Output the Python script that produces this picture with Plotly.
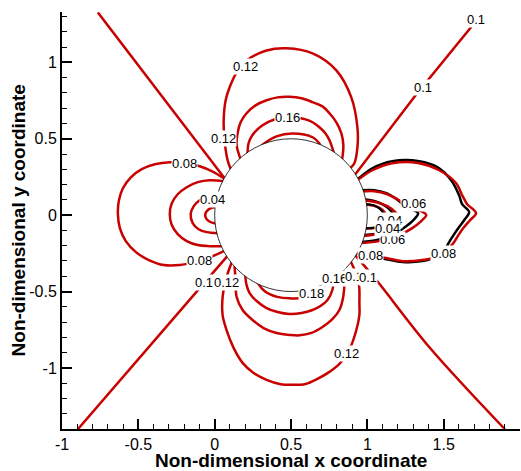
import plotly.graph_objects as go

# ---------------- axes ----------------
X_RANGE = [-1.0, 2.0]
Y_RANGE = [-1.4, 1.33]
X_TICKS = [-1, -0.5, 0, 0.5, 1, 1.5, 2]
X_TICK_TEXT = ["-1", "-0.5", "0", "0.5", "1", "1.5", "2"]
Y_TICKS = [-1, -0.5, 0, 0.5, 1]
Y_TICK_TEXT = ["-1", "-0.5", "0", "0.5", "1"]
X_TITLE = "Non-dimensional x coordinate"
Y_TITLE = "Non-dimensional y coordinate"

# cylinder
CYL_CX, CYL_CY, CYL_R = 0.5, 0.0, 0.5

# ---------------- contour lines ----------------
# upstream (left) lobes
UP002_X = [0.01, -0.039, -0.062, -0.039, 0.01]
UP002_Y = [0.055, 0.039, 0.0, -0.039, -0.055]
UP004_X = [0.02, -0.046, -0.098, -0.137, -0.157, -0.144, -0.105, -0.052, 0.02]
UP004_Y = [0.118, 0.118, 0.098, 0.059, 0.007, -0.052, -0.092, -0.111, -0.118]
UP006_X = [0.06, -0.033, -0.111, -0.183, -0.242, -0.281, -0.294, -0.281, -0.242, -0.183, -0.111, -0.033, 0.06]
UP006_Y = [0.222, 0.229, 0.216, 0.183, 0.137, 0.078, 0.007, -0.065, -0.124, -0.17, -0.196, -0.203, -0.203]
UP008_X = [0.07, -0.02, -0.098, -0.196, -0.294, -0.392, -0.477, -0.549, -0.601, -0.627, -0.634,
           -0.621, -0.582, -0.516, -0.431, -0.333, -0.229, -0.131, -0.046, 0.075]
UP008_Y = [0.235, 0.288, 0.32, 0.34, 0.346, 0.333, 0.301, 0.248, 0.176, 0.098, 0.007,
           -0.085, -0.17, -0.242, -0.294, -0.327, -0.327, -0.307, -0.281, -0.229]

# 0.1 straight lines
L010_UL_X = [-0.765, -0.35, 0.08]
L010_UL_Y = [1.327, 0.785, 0.222]
L010_LL_X = [-0.895, -0.118, 0.09]
L010_LL_Y = [-1.4, -0.503, -0.26]
L010_UR_X = [0.9, 1.32, 1.758]
L010_UR_Y = [0.24, 0.79, 1.327]
L010_LR_X = [0.91, 1.059, 1.405, 1.9]
L010_LR_Y = [-0.25, -0.425, -0.863, -1.4]

# top lobes
TOP012_X = [0.11, 0.085, 0.065, 0.059, 0.072, 0.098, 0.144, 0.209, 0.34, 0.471, 0.641, 0.797,
            0.895, 0.935, 0.935, 0.915, 0.89]
TOP012_Y = [0.29, 0.359, 0.49, 0.621, 0.752, 0.837, 0.935, 1.013, 1.078, 1.092, 1.059, 0.948,
            0.771, 0.575, 0.444, 0.34, 0.31]
TOP014_X = [0.17, 0.144, 0.15, 0.17, 0.209, 0.268, 0.34, 0.412, 0.49, 0.569, 0.641, 0.706,
            0.752, 0.797, 0.83, 0.843, 0.835]
TOP014_Y = [0.365, 0.458, 0.536, 0.608, 0.667, 0.719, 0.752, 0.771, 0.775, 0.765, 0.74, 0.712,
            0.667, 0.608, 0.536, 0.458, 0.365]
TOP016_X = [0.215, 0.222, 0.242, 0.275, 0.314, 0.359, 0.412, 0.477, 0.542, 0.595, 0.641, 0.686,
            0.725, 0.752, 0.78]
TOP016_Y = [0.4, 0.471, 0.516, 0.556, 0.588, 0.614, 0.631, 0.641, 0.637, 0.627, 0.608, 0.575,
            0.536, 0.49, 0.41]
TOP018_X = [0.305, 0.405, 0.51, 0.641, 0.695]
TOP018_Y = [0.455, 0.516, 0.535, 0.51, 0.455]

# bottom lobes
BOT012_X = [0.115, 0.072, 0.052, 0.052, 0.078, 0.124, 0.183, 0.255, 0.34, 0.425, 0.51, 0.595,
            0.673, 0.752, 0.817, 0.882, 0.928, 0.948, 0.948, 0.948, 0.941, 0.89]
BOT012_Y = [-0.30, -0.425, -0.536, -0.654, -0.752, -0.869, -0.967, -1.033, -1.078, -1.105, -1.111, -1.105,
            -1.072, -1.026, -0.974, -0.882, -0.752, -0.654, -0.575, -0.49, -0.425, -0.3]
BOT014_X = [0.13, 0.137, 0.144, 0.183, 0.248, 0.32, 0.405, 0.49, 0.556, 0.634, 0.706, 0.771,
            0.817, 0.843, 0.85, 0.845]
BOT014_Y = [-0.33, -0.425, -0.536, -0.621, -0.686, -0.739, -0.771, -0.784, -0.787, -0.771, -0.732, -0.68,
            -0.621, -0.529, -0.425, -0.36]
BOT016_X = [0.2, 0.209, 0.229, 0.275, 0.34, 0.412, 0.49, 0.569, 0.641, 0.693, 0.739, 0.771, 0.78]
BOT016_Y = [-0.39, -0.458, -0.51, -0.562, -0.608, -0.634, -0.647, -0.641, -0.621, -0.595, -0.556, -0.49, -0.42]
BOT018_X = [0.28, 0.33, 0.41, 0.5, 0.59, 0.66, 0.72]
BOT018_Y = [-0.44, -0.50, -0.535, -0.545, -0.54, -0.515, -0.455]

# wake (right) - red solution
WR008_X = [0.93, 1.033, 1.163, 1.34, 1.471, 1.582, 1.621, 1.654, 1.712, 1.673, 1.634, 1.601,
           1.569, 1.529, 1.471, 1.359, 1.229, 1.124, 1.026, 0.93]
WR008_Y = [0.225, 0.294, 0.34, 0.34, 0.294, 0.209, 0.131, 0.072, 0.013, -0.033, -0.078, -0.124,
           -0.176, -0.222, -0.268, -0.294, -0.301, -0.281, -0.261, -0.25]
WR006_X = [0.96, 1.046, 1.131, 1.196, 1.255, 1.314, 1.366, 1.386, 1.353, 1.294, 1.235, 1.17, 1.078, 0.96]
WR006_Y = [0.155, 0.157, 0.137, 0.105, 0.065, 0.039, 0.02, 0.0, -0.039, -0.085, -0.118, -0.144, -0.17, -0.183]
WR004_X = [0.975, 1.059, 1.131, 1.183, 1.209, 1.196, 1.144, 1.065, 0.975]
WR004_Y = [0.098, 0.085, 0.059, 0.02, -0.026, -0.072, -0.105, -0.124, -0.137]
WR002_X = [0.985, 1.05, 1.1, 1.125, 1.11, 1.065, 0.985]
WR002_Y = [0.07, 0.06, 0.035, -0.005, -0.05, -0.08, -0.088]

# wake (right) - black solution
WK008_X = [0.93, 1.033, 1.163, 1.34, 1.458, 1.549, 1.601, 1.621, 1.667, 1.634, 1.601, 1.569,
           1.536, 1.51, 1.458, 1.359, 1.229, 1.124, 1.026, 0.93]
WK008_Y = [0.23, 0.307, 0.353, 0.353, 0.314, 0.229, 0.131, 0.072, 0.02, -0.033, -0.078, -0.124,
           -0.176, -0.222, -0.268, -0.301, -0.307, -0.288, -0.268, -0.25]
WK006_X = [0.96, 1.046, 1.124, 1.183, 1.235, 1.288, 1.333, 1.301, 1.248, 1.196, 1.144, 1.065, 0.96]
WK006_Y = [0.163, 0.163, 0.144, 0.111, 0.072, 0.039, 0.013, -0.033, -0.078, -0.111, -0.137, -0.163, -0.176]
WK004_X = [0.975, 1.05, 1.11, 1.157, 1.176, 1.163, 1.118, 1.05, 0.975]
WK004_Y = [0.105, 0.092, 0.065, 0.026, -0.026, -0.072, -0.105, -0.124, -0.131]
WK002_X = [0.985, 1.04, 1.085, 1.11, 1.1, 1.06, 0.985]
WK002_Y = [0.072, 0.065, 0.039, 0.0, -0.046, -0.078, -0.085]

# contour labels
LABEL_TEXT = ["0.12", "0.12", "0.16", "0.08", "0.04", "0.08", "0.1", "0.12", "0.18", "0.16",
              "0.1", "0.1", "0.12", "0.08", "0.08", "0.06", "0.04", "0.04", "0.06", "0.1", "0.1"]
LABEL_X = [0.203, 0.059, 0.477, -0.196, -0.013, -0.098, -0.072, 0.078, 0.634, 0.784,
           0.915, 1.007, 0.863, 1.02, 1.497, 1.163, 1.144, 1.131, 1.301, 1.366, 1.712]
LABEL_Y = [0.975, 0.503, 0.641, 0.338, 0.105, -0.294, -0.438, -0.438, -0.516, -0.412,
           -0.399, -0.405, -0.908, -0.261, -0.248, -0.157, -0.033, -0.085, 0.078, 0.837, 1.281]

RED = "#c80000"
BLACK = "#000000"
LABEL_FONT = dict(family="Liberation Sans, Arial", size=13, color="black")

fig = go.Figure()

black_curves = [(WK008_X, WK008_Y), (WK006_X, WK006_Y), (WK004_X, WK004_Y)]
red_curves = [
    (UP002_X, UP002_Y, "spline", 1.1), (UP004_X, UP004_Y, "spline", 1.0),
    (UP006_X, UP006_Y, "spline", 1.0), (UP008_X, UP008_Y, "spline", 1.0),
    (L010_UL_X, L010_UL_Y, "linear", 0), (L010_LL_X, L010_LL_Y, "linear", 0),
    (L010_UR_X, L010_UR_Y, "linear", 0), (L010_LR_X, L010_LR_Y, "spline", 1.0),
    (TOP012_X, TOP012_Y, "spline", 1.0), (TOP014_X, TOP014_Y, "spline", 1.0),
    (TOP016_X, TOP016_Y, "spline", 1.0), (TOP018_X, TOP018_Y, "spline", 1.2),
    (BOT012_X, BOT012_Y, "spline", 1.0), (BOT014_X, BOT014_Y, "spline", 1.0),
    (BOT016_X, BOT016_Y, "spline", 1.0), (BOT018_X, BOT018_Y, "spline", 1.2),
    (WR008_X, WR008_Y, "spline", 0.9), (WR006_X, WR006_Y, "spline", 0.9),
    (WR004_X, WR004_Y, "spline", 1.0), (WR002_X, WR002_Y, "spline", 1.0),
]

for cx, cy in black_curves:
    fig.add_trace(go.Scatter(x=cx, y=cy, mode="lines", hoverinfo="skip",
                             line=dict(color=BLACK, width=2.5, shape="spline", smoothing=0.9)))
for cx, cy, shp, sm in red_curves:
    line = dict(color=RED, width=2.5, shape=shp)
    if shp == "spline":
        line["smoothing"] = sm
    fig.add_trace(go.Scatter(x=cx, y=cy, mode="lines", hoverinfo="skip", line=line))
fig.add_trace(go.Scatter(x=WK002_X, y=WK002_Y, mode="lines", hoverinfo="skip",
                         line=dict(color=BLACK, width=2.2, shape="spline", smoothing=1.0)))

# cylinder body
fig.add_shape(type="circle", xref="x", yref="y",
              x0=CYL_CX - CYL_R, x1=CYL_CX + CYL_R, y0=CYL_CY - CYL_R, y1=CYL_CY + CYL_R,
              fillcolor="white", line=dict(color="black", width=0.8), layer="above")

for t, lx, ly in zip(LABEL_TEXT, LABEL_X, LABEL_Y):
    fig.add_annotation(x=lx, y=ly, text=t, showarrow=False, bgcolor="white",
                       borderpad=0, font=LABEL_FONT)

fig.add_annotation(xref="paper", yref="paper", x=0.5, y=-0.076, yanchor="middle",
                   text="<b>" + X_TITLE + "</b>", showarrow=False,
                   font=dict(family="Liberation Sans, Arial", size=19, color="black"))
fig.add_annotation(xref="paper", yref="paper", x=-0.094, y=0.5, xanchor="center",
                   text="<b>" + Y_TITLE + "</b>", showarrow=False, textangle=-90,
                   font=dict(family="Liberation Sans, Arial", size=19, color="black"))

axis_common = dict(showgrid=False, zeroline=False, showline=True, linecolor="black", linewidth=2,
                   ticks="inside", ticklen=10, tickwidth=2, tickcolor="black",
                   tickfont=dict(family="Liberation Sans, Arial", size=16, color="black"),
                   automargin=False,
                   minor=dict(dtick=0.1, ticks="inside", ticklen=5, tickwidth=1, tickcolor="black"))
fig.update_xaxes(range=X_RANGE, tickvals=X_TICKS, ticktext=X_TICK_TEXT, **axis_common)
fig.update_yaxes(range=Y_RANGE, tickvals=Y_TICKS, ticktext=Y_TICK_TEXT, **axis_common)

fig.update_layout(width=521, height=471, margin=dict(l=62, r=1, t=12, b=42),
                  plot_bgcolor="white", paper_bgcolor="white", showlegend=False)

fig.write_html("out.html")
